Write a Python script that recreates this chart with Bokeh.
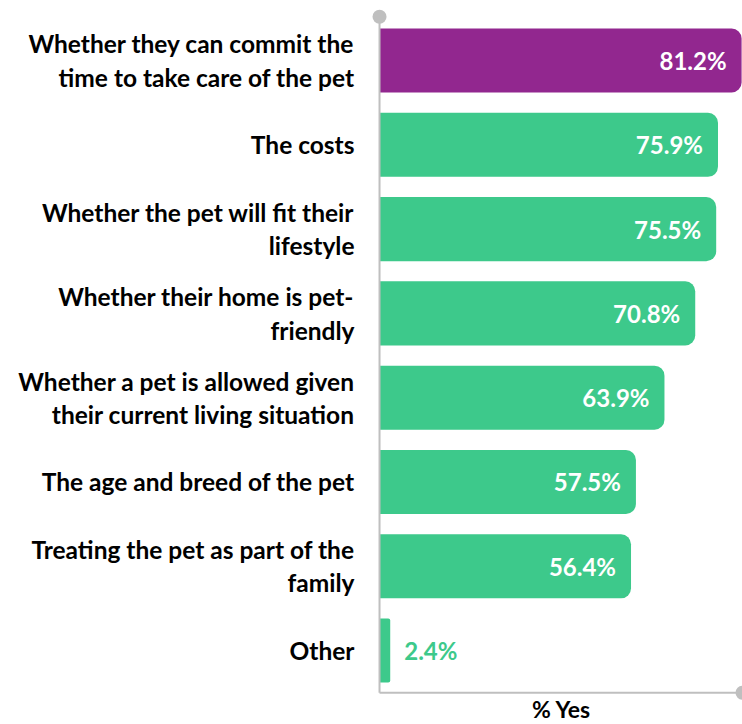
from bokeh.plotting import figure
from bokeh.models import ColumnDataSource, Range1d, FixedTicker, CDSView, IndexFilter, Label
from bokeh.core.properties import value
from bokeh.embed import file_html
from bokeh.resources import INLINE

categories = [
    "Whether they can commit the\ntime to take care of the pet",
    "The costs",
    "Whether the pet will fit their\nlifestyle",
    "Whether their home is pet-\nfriendly",
    "Whether a pet is allowed given\ntheir current living situation",
    "The age and breed of the pet",
    "Treating the pet as part of the\nfamily",
    "Other",
]
values = [81.2, 75.9, 75.5, 70.8, 63.9, 57.5, 56.4, 2.4]
value_labels = ["81.2%", "75.9%", "75.5%", "70.8%", "63.9%", "57.5%", "56.4%", "2.4%"]
x_axis_title = "% Yes"

PURPLE = "#92278F"
GREEN = "#3DC98B"
GRAY = "#BFBFBF"
FONT = "Lato"

n = len(categories)
ys = [n - 1 - i for i in range(n)]
colors = [PURPLE if i == 0 else GREEN for i in range(n)]
inside = [v > 10 for v in values]
text_colors = ["white" if ins else GREEN for ins in inside]
aligns = ["right" if ins else "left" for ins in inside]
offsets = [-15 if ins else 14 for ins in inside]

src = ColumnDataSource(dict(y=ys, v=values, color=colors, lab=value_labels,
                            tc=text_colors, ta=aligns, xo=offsets))

X_START, X_END = -1.8, 81.4
p = figure(width=742, height=724, output_backend="svg", toolbar_location=None,
           x_range=Range1d(X_START, X_END), y_range=Range1d(-0.877, n - 1 + 0.617),
           min_border_left=371, min_border_right=0, min_border_top=8, min_border_bottom=0)
p.background_fill_color = "white"
p.border_fill_color = "white"
p.outline_line_color = None
p.grid.visible = False

big = [i for i in range(n) if inside[i]]
small = [i for i in range(n) if not inside[i]]
p.hbar(y="y", left=0, right="v", height=0.76, fill_color="color", line_color=None,
       source=src, view=CDSView(filter=IndexFilter(big)), border_radius=(0, 10, 10, 0))
p.hbar(y="y", left=0, right="v", height=0.76, fill_color="color", line_color=None,
       source=src, view=CDSView(filter=IndexFilter(small)), border_radius=(0, 2, 2, 0))

p.text(x="v", y="y", text="lab", source=src, text_color="tc", text_align="ta",
       x_offset="xo", text_baseline="middle", text_font=value(FONT),
       text_font_style="bold", text_font_size="24px")

# axis lines with end dots
top = n - 0.5 + 0.02
p.segment(x0=[0, 0], y0=[-0.5, -0.5], x1=[0, X_END], y1=[top, -0.5],
          line_color=GRAY, line_width=2)
p.scatter(x=[0, X_END], y=[top, -0.5], size=14, color=GRAY, line_color=None)

p.yaxis.ticker = FixedTicker(ticks=ys)
p.yaxis.major_label_overrides = {y: c for y, c in zip(ys, categories)}
p.yaxis.axis_line_color = None
p.yaxis.major_tick_line_color = None
p.yaxis.minor_tick_line_color = None
p.yaxis.major_tick_out = 0
p.yaxis.major_label_standoff = 17
p.yaxis.major_label_text_font = FONT
p.yaxis.major_label_text_font_style = "bold"
p.yaxis.major_label_text_font_size = "24.5px"
p.yaxis.major_label_text_color = "black"
p.yaxis.major_label_text_line_height = 1.15

p.xaxis.visible = False

# x-axis title centred under the value axis
p.add_layout(Label(x=(X_START + X_END) / 2 + 1.0, y=-0.5, y_offset=-16,
                   text=x_axis_title, text_align="center", text_baseline="middle",
                   text_font=FONT, text_font_style="bold", text_font_size="23px",
                   text_color="black"))

open("out.html", "w").write(file_html(p, INLINE))
